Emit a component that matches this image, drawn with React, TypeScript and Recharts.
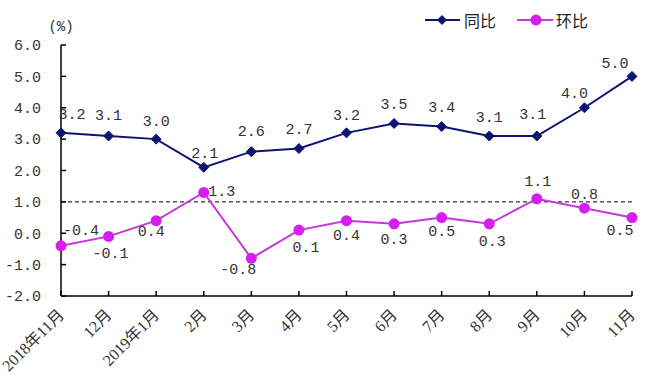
import { LineChart, Line, XAxis, YAxis, ReferenceLine, LabelList } from 'recharts';

const months = ['2018年11月', '12月', '2019年1月', '2月', '3月', '4月', '5月', '6月', '7月', '8月', '9月', '10月', '11月'];
const yoy = [3.2, 3.1, 3.0, 2.1, 2.6, 2.7, 3.2, 3.5, 3.4, 3.1, 3.1, 4.0, 5.0];
const mom = [-0.4, -0.1, 0.4, 1.3, -0.8, 0.1, 0.4, 0.3, 0.5, 0.3, 1.1, 0.8, 0.5];
const yTicks = [-2, -1, 0, 1, 2, 3, 4, 5, 6];

const data = months.map((month, i) => ({ month, yoy: yoy[i], mom: mom[i] }));

const NAVY = '#0d1470';
const MAGENTA_LINE = '#c23ad8';
const MAGENTA_DOT = '#d61ef0';
const NUM_FONT = '"Liberation Mono", "DejaVu Sans Mono", monospace';
const CJK_FONT = '"Liberation Serif", "Noto Sans CJK SC", serif';

// label nudges (dx, dy) per point, as placed in the original
const yoyOffsets = [[11, -17], [0, -19], [0, -17], [1, -13], [0, -19], [0, -18], [0, -16], [0, -18], [0, -18], [0, -17], [-4, -20], [-10, -13], [-17, -12]];
const momOffsets = [[20, -14], [2, 18], [-5, 12], [18, 0], [-13, 12], [7, 18], [0, 16], [0, 17], [0, 15], [3, 19], [1, -16], [0, -13], [-12, 14]];

const makeLabel = (offsets: number[][]) => (props: any) => {
  const { x, y, value, index } = props;
  const [dx, dy] = offsets[index] || [0, -15];
  return (
    <text
      x={x + dx}
      y={y + dy}
      textAnchor="middle"
      dominantBaseline="central"
      fontSize={15}
      fontFamily={NUM_FONT}
      fill="#333"
    >
      {Number(value).toFixed(1)}
    </text>
  );
};

const Diamond = (props: any) => {
  const { cx, cy, index } = props;
  const r = 5;
  return (
    <path
      key={`d-${index}`}
      d={`M${cx},${cy - r}L${cx + r},${cy}L${cx},${cy + r}L${cx - r},${cy}Z`}
      fill={NAVY}
      stroke={NAVY}
    />
  );
};

const MonthTick = (props: any) => {
  const { x, y, payload } = props;
  const tx = x + 4;
  const ty = y + 25;
  return (
    <text
      x={tx}
      y={ty}
      textAnchor="end"
      fontSize={16}
      fontFamily={CJK_FONT}
      fill="#333"
      transform={`rotate(-45 ${tx} ${ty})`}
    >
      {payload.value}
    </text>
  );
};

function LegendBox() {
  return (
    <svg width={650} height={40} style={{ position: 'absolute', left: 0, top: 0 }}>
      <line x1={425} x2={460} y1={20} y2={20} stroke={NAVY} strokeWidth={2} />
      <path d="M442,15L447,20L442,25L437,20Z" fill={NAVY} />
      <text x={464} y={20} dominantBaseline="central" fontSize={16} fontFamily='"Noto Sans CJK SC", sans-serif' fill="#222">
        同比
      </text>
      <line x1={517} x2={553} y1={20} y2={20} stroke={MAGENTA_LINE} strokeWidth={2} />
      <circle cx={536} cy={20} r={5.5} fill={MAGENTA_DOT} />
      <text x={556} y={20} dominantBaseline="central" fontSize={16} fontFamily='"Noto Sans CJK SC", sans-serif' fill="#222">
        环比
      </text>
      <text x={61} y={27} textAnchor="middle" dominantBaseline="central" fontSize={14} fontFamily={NUM_FONT} fill="#333">
        (%)
      </text>
    </svg>
  );
}

export default function App() {
  return (
    <div style={{ position: 'absolute', left: 0, top: 0, width: 650, height: 379, background: '#fff' }}>
      <LineChart width={650} height={379} data={data} margin={{ top: 45, right: 18, bottom: 13, left: 11 }}>
        <XAxis
          dataKey="month"
          scale="point"
          padding={{ left: 0, right: 0 }}
          interval={0}
          height={70}
          stroke="#000"
          strokeWidth={1.5}
          tickSize={-5}
          tickMargin={0}
          tick={<MonthTick />}
        />
        <YAxis
          domain={[-2, 6]}
          ticks={yTicks}
          width={50}
          stroke="#000"
          strokeWidth={1.5}
          tickSize={-5}
          tickMargin={25}
          tickFormatter={(v: number) => v.toFixed(1)}
          tick={{ fill: '#333', fontSize: 15, fontFamily: NUM_FONT }}
        />
        <ReferenceLine y={1} stroke="#000" strokeDasharray="4 3" strokeWidth={1} />
        <Line
          dataKey="yoy"
          stroke={NAVY}
          strokeWidth={2}
          dot={<Diamond />}
          activeDot={false}
          isAnimationActive={false}
        >
          <LabelList dataKey="yoy" content={makeLabel(yoyOffsets)} />
        </Line>
        <Line
          dataKey="mom"
          stroke={MAGENTA_LINE}
          strokeWidth={2}
          dot={{ r: 5.5, fill: MAGENTA_DOT, stroke: MAGENTA_DOT, strokeWidth: 0 }}
          activeDot={false}
          isAnimationActive={false}
        >
          <LabelList dataKey="mom" content={makeLabel(momOffsets)} />
        </Line>
      </LineChart>
      <LegendBox />
    </div>
  );
}
